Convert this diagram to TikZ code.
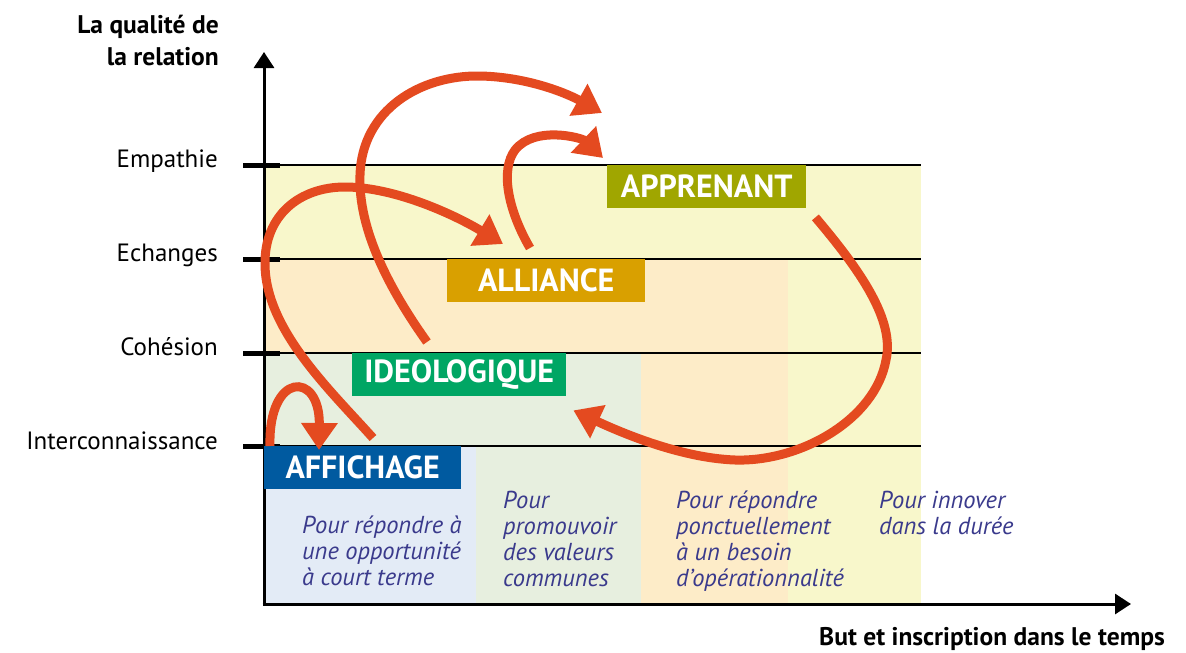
\documentclass[tikz,border=0pt]{standalone}
\usepackage{fontspec}
\setmainfont{PT Sans}
\usepackage{xcolor}
\usepackage{tikz}
\usetikzlibrary{positioning, arrows.meta, calc}

\definecolor{flecheOrange}{RGB}{228,74,32}
\definecolor{bleuAff}{RGB}{0,90,160}
\definecolor{vertIdeo}{RGB}{0,166,100}
\definecolor{orAll}{RGB}{217,160,0}
\definecolor{oliveApp}{RGB}{160,166,0}
\definecolor{fondJaune}{RGB}{248,247,203}
\definecolor{fondOrange}{RGB}{253,236,200}
\definecolor{fondVert}{RGB}{231,239,223}
\definecolor{fondBleu}{RGB}{227,235,246}
\definecolor{texteBleu}{RGB}{58,58,140}

\begin{document}
\begin{tikzpicture}[x=1pt, y=-1pt,
		niveau/.style={anchor=base east, inner sep=0pt, font=\fontsize{25}{28}\selectfont},
		titre/.style={inner sep=0pt, font=\fontsize{25.5}{32}\selectfont\bfseries},
		etape/.style={fill=#1, text=white, anchor=north west, inner sep=0pt, minimum height=43pt, font=\fontsize{32}{36}\selectfont\bfseries},
		but/.style={anchor=north west, align=left, inner sep=0pt, text=texteBleu, font=\fontsize{24.5}{26}\selectfont\itshape},
		fleche/.style={flecheOrange, line width=9pt, -{Triangle[length=27pt, width=35pt]}},
		axe/.style={line width=3pt, -{Triangle[length=16pt, width=20pt]}}
	]
		\useasboundingbox (0,0) rectangle (1186,653);
		
		% Fonds des colonnes
		\fill[fondJaune] (264,165) rectangle (921,604);
		\fill[fondOrange] (264,259) rectangle (788,604);
		\fill[fondVert] (264,353) rectangle (641,604);
		\fill[fondBleu] (264,446) rectangle (476,604);
		
		% Niveaux
		\foreach \y in {165,259,353,446} {
			\draw[line width=1.5pt] (264,\y) -- (921,\y);
			\draw[line width=5pt] (243,\y) -- (280,\y);
		}
		\node[niveau] (empathie) at (218,167) {Empathie};
		\node[niveau] (echanges) at (218,261) {Echanges};
		\node[niveau] (cohesion) at (218,355) {Cohésion};
		\node[niveau] (interco) at (218,449) {Interconnaissance};
		
		% Axes
		\draw[axe] (264,604) -- (264,52);
		\draw[axe] (262.5,604) -- (1131,604);
		\node[titre, anchor=north east, align=right] (qualite) at (219,10.6) {\strut La qualité de\\la relation};
		\node[titre, anchor=base east] (temps) at (1165,645) {But et inscription dans le temps};
		
		% Etapes
		\node[etape=bleuAff, minimum width=197pt] (affichage) at (264,446) {AFFICHAGE};
		\node[etape=vertIdeo, minimum width=214pt] (ideologique) at (352,353) {IDEOLOGIQUE};
		\node[etape=orAll, minimum width=198pt] (alliance) at (447,259) {ALLIANCE};
		\node[etape=oliveApp, minimum width=199pt] (apprenant) at (607,165) {APPRENANT};
		
		% Buts
		\node[but] (butAff) at (302,515.3) {\strut Pour répondre à\\une opportunité\\à court terme};
		\node[but] (butIdeo) at (503,490) {\strut Pour\\promouvoir\\des valeurs\\communes};
		\node[but] (butAll) at (676,490) {\strut Pour répondre\\ponctuellement\\à un besoin\\d’opérationnalité};
		\node[but] (butApp) at (879,490) {\strut Pour innover\\dans la durée};
		
		% Fleches
		\draw[fleche] ($(affichage.north west)+(6,0)$) .. controls +(-2,-74) and +(1,-80) .. ($(affichage.north west)+(55,4)$);
		\draw[fleche] ($(affichage.north west)+(109,-8)$) .. controls (330,390) and (266,330) .. (265,265)
			.. controls (264,215) and (300,187) .. (345,187)
			.. controls (395,187) and (455,215) .. ($(alliance.north west)+(56,-15)$);
		\draw[fleche] ($(ideologique.north west)+(75,-11)$) .. controls (390,290) and (358,230) .. (360,175)
			.. controls (362,110) and (420,75) .. (480,76)
			.. controls (530,77) and (570,95) .. ($(apprenant.north west)+(-5,-52)$);
		\draw[fleche] ($(alliance.north west)+(83,-11)$) .. controls (508,210) and (500,170) .. (515,150)
			.. controls (535,125) and (582,138) .. ($(apprenant.north west)+(-4,-7)$);
		\draw[fleche] ($(apprenant.south east)+(9,9)$) .. controls (860,270) and (895,320) .. (886,360)
			.. controls (875,420) and (800,462) .. (735,460)
			.. controls (680,458) and (620,432) .. ($(ideologique.south east)+(7,14)$);
		
	\end{tikzpicture}
\end{document}
